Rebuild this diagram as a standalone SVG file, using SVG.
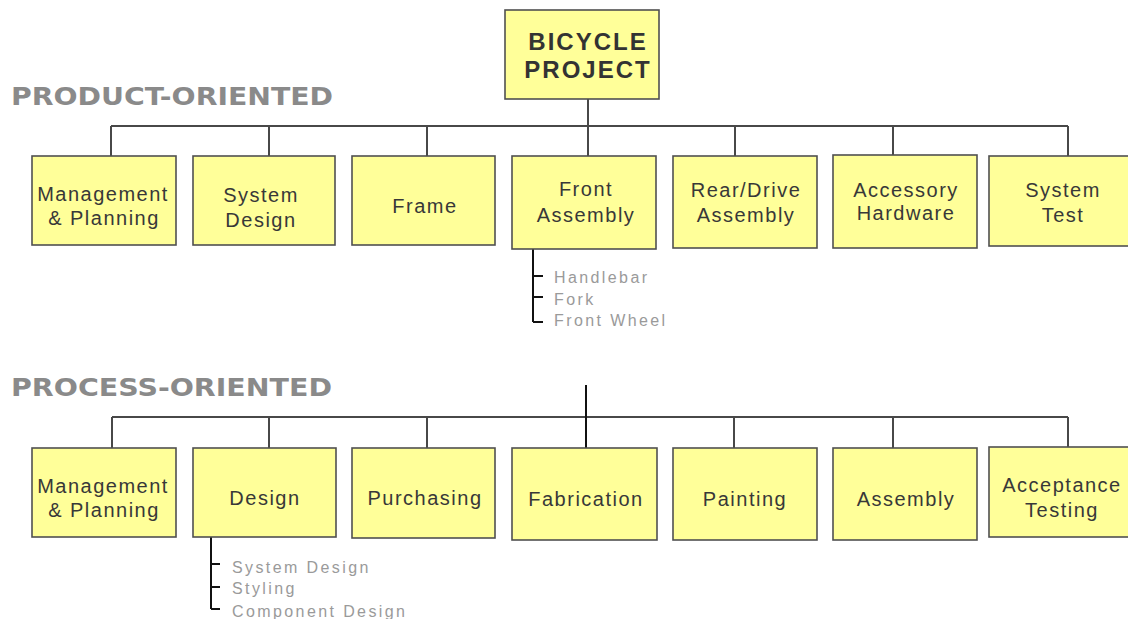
<svg xmlns="http://www.w3.org/2000/svg" width="1128" height="619" viewBox="0 0 1128 619">
<style>
.box{fill:#FFFF99;stroke:#505050;stroke-width:1.6}
.lbl{font-family:"Liberation Sans",Arial,sans-serif;font-size:20px;fill:#383838;text-anchor:middle;letter-spacing:1.5px}
.title{font-family:"Liberation Sans",Arial,sans-serif;font-size:24px;font-weight:bold;fill:#333;text-anchor:middle;letter-spacing:2px}
.sec{font-family:"DejaVu Sans",Verdana,sans-serif;font-size:24px;font-weight:bold;fill:#8a8a8a}
.sub{font-family:"Liberation Sans",Arial,sans-serif;font-size:16px;fill:#9a9a9a;letter-spacing:2.4px}
.ln{stroke:#484848;stroke-width:2;fill:none}
.dk{stroke:#111;stroke-width:2;fill:none}
</style>
<rect width="1128" height="619" fill="#fff"/>
<text class="sec" x="11" y="105" textLength="322" lengthAdjust="spacingAndGlyphs">PRODUCT-ORIENTED</text>
<text class="sec" x="11" y="396" textLength="321" lengthAdjust="spacingAndGlyphs">PROCESS-ORIENTED</text>
<g id="connectors">
<path class="ln" d="M588 99V126M111 126H1068M111 126V156M269 126V156M427 126V156M588 126V156M735 126V156M893 126V155M1068 126V156"/>
<path class="dk" d="M533 249V322M533 276H543M533 297H543M533 322H543"/>
<path class="ln" d="M112 417H1068M112 417V448M269 417V448M427 417V448M734 417V448M893 417V448M1068 417V447"/>
<path class="dk" d="M586 385V448"/>
<path class="dk" d="M211 537V609M211 564H220M211 587H220M211 609H220"/>
</g>
<g id="n-root"><rect class="box" x="505" y="10" width="154" height="89"/><text class="title" x="588" y="50">BICYCLE</text><text class="title" x="588" y="78">PROJECT</text></g>
<g id="n-p1"><rect class="box" x="32" y="156" width="144" height="89"/><text class="lbl" x="103" y="201">Management</text><text class="lbl" x="104" y="225">&amp; Planning</text></g>
<g id="n-p2"><rect class="box" x="193" y="156" width="142" height="89"/><text class="lbl" x="261" y="202">System</text><text class="lbl" x="261" y="227">Design</text></g>
<g id="n-p3"><rect class="box" x="352" y="156" width="143" height="89"/><text class="lbl" x="425" y="213">Frame</text></g>
<g id="n-p4"><rect class="box" x="512" y="156" width="144" height="93"/><text class="lbl" x="586" y="196">Front</text><text class="lbl" x="586" y="222">Assembly</text>
<text class="sub" x="554" y="283">Handlebar</text><text class="sub" x="554" y="305">Fork</text><text class="sub" x="554" y="326">Front Wheel</text></g>
<g id="n-p5"><rect class="box" x="673" y="156" width="144" height="92"/><text class="lbl" x="746" y="197">Rear/Drive</text><text class="lbl" x="746" y="222">Assembly</text></g>
<g id="n-p6"><rect class="box" x="833" y="155" width="144" height="93"/><text class="lbl" x="906" y="197">Accessory</text><text class="lbl" x="906" y="220">Hardware</text></g>
<g id="n-p7"><rect class="box" x="989" y="156" width="148" height="90"/><text class="lbl" x="1063" y="197">System</text><text class="lbl" x="1063" y="222">Test</text></g>
<g id="n-q1"><rect class="box" x="32" y="448" width="144" height="89"/><text class="lbl" x="103" y="493">Management</text><text class="lbl" x="104" y="517">&amp; Planning</text></g>
<g id="n-q2"><rect class="box" x="193" y="448" width="143" height="89"/><text class="lbl" x="265" y="505">Design</text>
<text class="sub" x="232" y="573">System Design</text><text class="sub" x="232" y="594">Styling</text><text class="sub" x="232" y="617">Component Design</text></g>
<g id="n-q3"><rect class="box" x="352" y="448" width="143" height="90"/><text class="lbl" x="425" y="505">Purchasing</text></g>
<g id="n-q4"><rect class="box" x="512" y="448" width="145" height="92"/><text class="lbl" x="586" y="506">Fabrication</text></g>
<g id="n-q5"><rect class="box" x="673" y="448" width="144" height="92"/><text class="lbl" x="745" y="506">Painting</text></g>
<g id="n-q6"><rect class="box" x="833" y="448" width="144" height="92"/><text class="lbl" x="906" y="506">Assembly</text></g>
<g id="n-q7"><rect class="box" x="989" y="447" width="148" height="90"/><text class="lbl" x="1062" y="492">Acceptance</text><text class="lbl" x="1062" y="517">Testing</text></g>
</svg>
